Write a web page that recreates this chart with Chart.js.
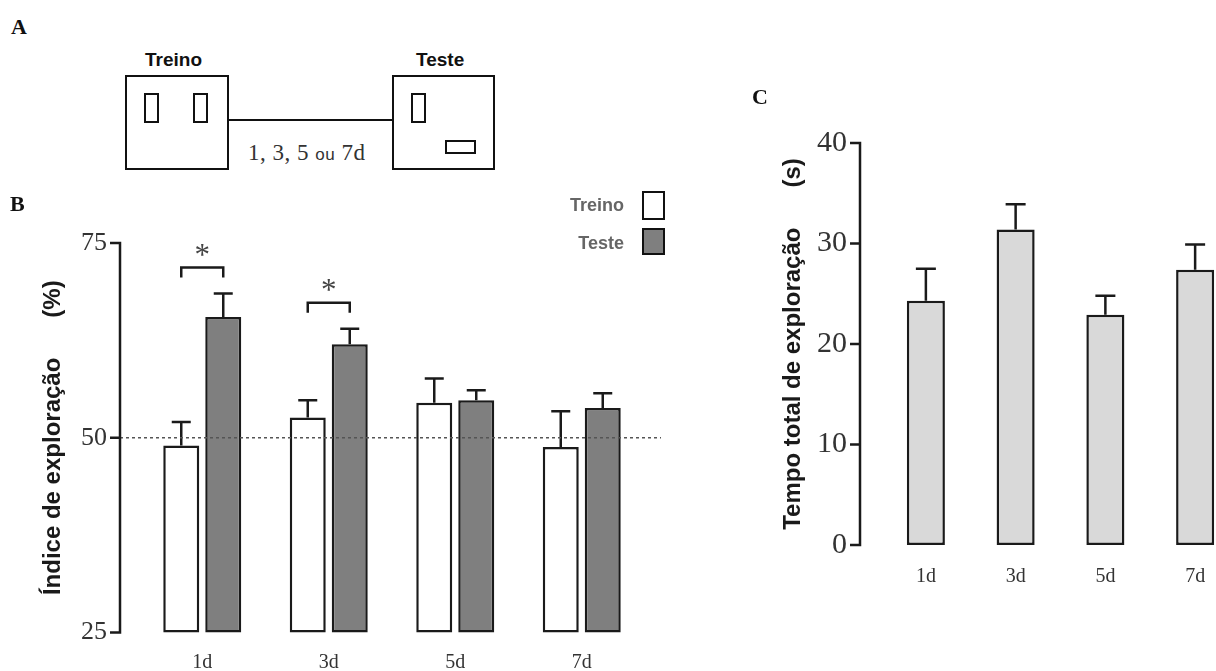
<!DOCTYPE html>
<html>
<head>
<meta charset="utf-8">
<script src="https://cdn.jsdelivr.net/npm/chart.js@4.4.1/dist/chart.umd.min.js"></script>
<style>
html, body { margin: 0; padding: 0; background: #fff; width: 1216px; height: 671px; overflow: hidden; position: relative; }
canvas { position: absolute; }
.box { position: absolute; border: 2px solid #111; box-sizing: border-box; }
.letter { position: absolute; font: bold 22px "Liberation Serif", serif; color: #111; line-height: 22px; }
.lab { position: absolute; font: bold 19px "Liberation Sans", Arial, sans-serif; color: #111; line-height: 20px; }
.leg { position: absolute; font: bold 18px "Liberation Sans", Arial, sans-serif; color: #666; line-height: 18px; text-align: right; width: 90px; }
.interval { position: absolute; font: 23px "Liberation Serif", serif; color: #333; line-height: 23px; white-space: nowrap; letter-spacing: 0.5px; }
.interval span { font: 17px "Liberation Sans", Arial, sans-serif; }
</style>
</head>
<body>
<canvas id="chartB" width="700" height="500" style="left:0;top:180px"></canvas>
<canvas id="chartC" width="520" height="509" style="left:740px;top:91px"></canvas>

<!-- panel A: protocol sketch -->
<div class="letter" style="left:11px;top:16px">A</div>
<div class="lab" style="left:145px;top:50px">Treino</div>
<div class="lab" style="left:416px;top:50px">Teste</div>
<div class="box" style="left:125px;top:75px;width:104px;height:95px"></div>
<div class="box" style="left:144px;top:93px;width:15px;height:30px"></div>
<div class="box" style="left:193px;top:93px;width:15px;height:30px"></div>
<div style="position:absolute;left:228px;top:119px;width:165px;height:2px;background:#111"></div>
<div class="box" style="left:392px;top:75px;width:103px;height:95px"></div>
<div class="box" style="left:411px;top:93px;width:15px;height:30px"></div>
<div class="box" style="left:445px;top:140px;width:31px;height:14px"></div>
<div class="interval" style="left:248px;top:141px">1, 3, 5 <span>ou</span> 7d</div>

<div class="letter" style="left:10px;top:193px">B</div>
<div class="letter" style="left:752px;top:86px">C</div>

<!-- legend B -->
<div class="leg" style="left:534px;top:196px">Treino</div>
<div class="box" style="left:642px;top:191px;width:23px;height:29px;background:#fff;border-width:2.5px"></div>
<div class="leg" style="left:534px;top:234px">Teste</div>
<div class="box" style="left:642px;top:228px;width:23px;height:27px;background:#7f7f7f;border-width:2.5px"></div>

<script>
// B: exploration index (%)
const days = ["1d", "3d", "5d", "7d"]
const treino = [49.0, 52.6, 54.5, 48.8]
const treinoSem = [3.0, 2.2, 3.1, 4.6]
const teste = [65.5, 62.0, 54.8, 53.8]
const testeSem = [3.0, 2.0, 1.3, 1.9]
const significant = ["1d", "3d"]
const indexTicks = [25, 50, 75]
const chanceLevel = 50

// C: total exploration time (s)
const tempoTotal = [24.3, 31.4, 22.9, 27.4]
const tempoSem = [3.2, 2.5, 1.9, 2.5]
const tempoTicks = [0, 10, 20, 30, 40]

const ink = "#1a1a1a"
const tickFontB = { family: "Liberation Serif", size: 26 }
const tickFontC = { family: "Liberation Serif", size: 30 }
const catFont = { family: "Liberation Serif", size: 20 }
const titleFont = { family: "Liberation Sans", size: 24, weight: "bold" }

// y axis drawn a little left of the plot, with ticks pointing outwards
const sideAxis = {
  id: "sideAxis",
  afterDraw(chart, args, opts) {
    const ctx = chart.ctx
    const y = chart.scales.y
    const x = chart.chartArea.left - opts.gap
    const top = y.getPixelForValue(y.max)
    const bottom = y.getPixelForValue(y.min)
    ctx.save()
    ctx.strokeStyle = ink
    ctx.lineWidth = 2.5
    ctx.beginPath()
    ctx.moveTo(x - 10, top)
    ctx.lineTo(x, top)
    ctx.lineTo(x, bottom)
    ctx.lineTo(x - 10, bottom)
    y.ticks.forEach(t => {
      const py = y.getPixelForValue(t.value)
      ctx.moveTo(x - 10, py)
      ctx.lineTo(x, py)
    })
    ctx.stroke()
    ctx.restore()
  }
}

const errorBars = {
  id: "errorBars",
  afterDatasetsDraw(chart, args, opts) {
    const ctx = chart.ctx
    const y = chart.scales.y
    ctx.save()
    ctx.strokeStyle = ink
    ctx.lineWidth = 2.5
    chart.data.datasets.forEach((ds, di) => {
      if (!ds.sem) return
      chart.getDatasetMeta(di).data.forEach((bar, i) => {
        const top = y.getPixelForValue(ds.data[i] + ds.sem[i])
        ctx.beginPath()
        ctx.moveTo(bar.x, bar.y)
        ctx.lineTo(bar.x, top)
        ctx.moveTo(bar.x - opts.cap, top)
        ctx.lineTo(bar.x + opts.cap, top)
        ctx.stroke()
      })
    })
    ctx.restore()
  }
}

const chanceLine = {
  id: "chanceLine",
  afterDatasetsDraw(chart) {
    const ctx = chart.ctx
    const py = chart.scales.y.getPixelForValue(chanceLevel)
    ctx.save()
    ctx.strokeStyle = "#555"
    ctx.lineWidth = 1.5
    ctx.setLineDash([3, 3])
    ctx.beginPath()
    ctx.moveTo(chart.chartArea.left - 19, py)
    ctx.lineTo(chart.chartArea.right + 16, py)
    ctx.stroke()
    ctx.restore()
  }
}

const sigBrackets = {
  id: "sigBrackets",
  afterDatasetsDraw(chart) {
    const ctx = chart.ctx
    const y = chart.scales.y
    const a = chart.getDatasetMeta(0).data
    const b = chart.getDatasetMeta(1).data
    ctx.save()
    significant.forEach(day => {
      const i = days.indexOf(day)
      const errTop = Math.min(
        y.getPixelForValue(treino[i] + treinoSem[i]),
        y.getPixelForValue(teste[i] + testeSem[i]))
      const top = errTop - 26
      ctx.strokeStyle = ink
      ctx.lineWidth = 2.5
      ctx.beginPath()
      ctx.moveTo(a[i].x, top + 10)
      ctx.lineTo(a[i].x, top)
      ctx.lineTo(b[i].x, top)
      ctx.lineTo(b[i].x, top + 10)
      ctx.stroke()
      ctx.fillStyle = "#444"
      ctx.font = "31px 'Liberation Serif'"
      ctx.textAlign = "center"
      ctx.textBaseline = "alphabetic"
      ctx.fillText("*", (a[i].x + b[i].x) / 2, top - 20 + 17)
    })
    ctx.restore()
  }
}

new Chart(document.getElementById("chartB"), {
  type: "bar",
  data: {
    labels: days,
    datasets: [
      {
        label: "Treino",
        data: treino,
        sem: treinoSem,
        base: indexTicks[0],
        backgroundColor: "#ffffff",
        borderColor: ink,
        borderWidth: 2.5,
        borderSkipped: false,
        clip: false,
        categoryPercentage: 0.664,
        barPercentage: 0.857
      },
      {
        label: "Teste",
        data: teste,
        sem: testeSem,
        base: indexTicks[0],
        backgroundColor: "#7f7f7f",
        borderColor: ink,
        borderWidth: 2.5,
        borderSkipped: false,
        clip: false,
        categoryPercentage: 0.664,
        barPercentage: 0.857
      }
    ]
  },
  options: {
    responsive: false,
    animation: false,
    // tick padding (32) + half label height is reserved above/below the plot
    layout: { padding: { top: 63, right: 55, bottom: 0, left: 0 } },
    plugins: {
      legend: { display: false },
      tooltip: { enabled: false },
      sideAxis: { gap: 19 },
      errorBars: { cap: 9.5 }
    },
    scales: {
      x: {
        grid: { display: false, drawTicks: false },
        border: { display: false },
        ticks: { font: catFont, color: "#333", padding: 18 },
        afterFit(scale) { scale.height = 40 }
      },
      y: {
        min: indexTicks[0],
        max: indexTicks[indexTicks.length - 1],
        afterBuildTicks(scale) { scale.ticks = indexTicks.map(v => ({ value: v })) },
        grid: { display: false, drawTicks: false },
        border: { display: false },
        ticks: { font: tickFontB, color: "#333", padding: 32 },
        title: {
          display: true,
          text: "Índice de exploração      (%)",
          font: titleFont,
          color: ink,
          padding: { top: 39, bottom: 0 }
        },
        afterFit(scale) { scale.width = 139 }
      }
    }
  },
  plugins: [sideAxis, errorBars, chanceLine, sigBrackets]
})

new Chart(document.getElementById("chartC"), {
  type: "bar",
  data: {
    labels: days,
    datasets: [
      {
        label: "Tempo total",
        data: tempoTotal,
        sem: tempoSem,
        backgroundColor: "#d9d9d9",
        borderColor: ink,
        borderWidth: 2.5,
        borderSkipped: false,
        clip: false,
        categoryPercentage: 1,
        barPercentage: 0.424
      }
    ]
  },
  options: {
    responsive: false,
    animation: false,
    layout: { padding: { top: 0, right: 20, bottom: 0, left: 0 } },
    plugins: {
      legend: { display: false },
      tooltip: { enabled: false },
      sideAxis: { gap: 21 },
      errorBars: { cap: 10 }
    },
    scales: {
      x: {
        grid: { display: false, drawTicks: false },
        border: { display: false },
        ticks: { font: catFont, color: "#333", padding: 20 },
        afterFit(scale) { scale.height = 55 }
      },
      y: {
        min: tempoTicks[0],
        max: tempoTicks[tempoTicks.length - 1],
        afterBuildTicks(scale) { scale.ticks = tempoTicks.map(v => ({ value: v })) },
        grid: { display: false, drawTicks: false },
        border: { display: false },
        ticks: { font: tickFontC, color: "#333", padding: 34 },
        title: {
          display: true,
          text: "Tempo total de exploração      (s)",
          font: titleFont,
          color: ink,
          padding: { top: 39, bottom: 0 }
        },
        afterFit(scale) { scale.width = 141 }
      }
    }
  },
  plugins: [sideAxis, errorBars]
})
</script>
</body>
</html>
